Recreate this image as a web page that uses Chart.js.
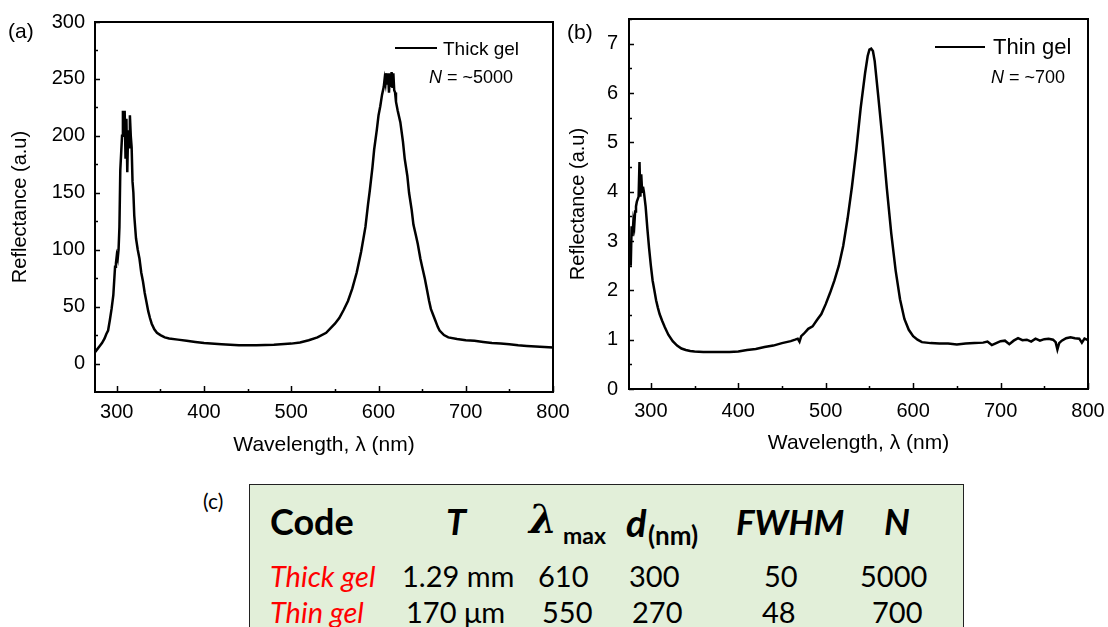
<!DOCTYPE html>
<html>
<head>
<meta charset="utf-8">
<script src="https://cdn.jsdelivr.net/npm/chart.js@4.4.0/dist/chart.umd.min.js"></script>
<style>
body { margin: 0; background: #fff; width: 1108px; height: 627px; overflow: hidden; position: relative; font-family: "Liberation Sans", Arial, sans-serif; }
canvas { position: absolute; top: 0; }
#chartA { left: 0; }
#chartB { left: 560px; }
.abs { position: absolute; white-space: nowrap; line-height: 1; }
.panel { font-size: 21px; }
.legline { position: absolute; height: 0; border-top: 2.5px solid #000; }
#table { position: absolute; left: 249px; top: 484px; width: 713px; height: 160px; background: #e2efd9; border: 1.5px solid #222; }
.cal { font-family: Lato, "Open Sans", sans-serif; }
.hd { font-weight: bold; font-size: 36px; }
.row { font-size: 29px; }
.red { color: #ff0000; font-style: italic; }
</style>
</head>
<body>
<canvas id="chartA" width="580" height="470"></canvas>
<canvas id="chartB" width="548" height="470"></canvas>

<div class="abs panel" style="left:8px;top:20px;">(a)</div>
<div class="abs panel" style="left:567px;top:21px;">(b)</div>
<div class="abs panel cal" style="left:203px;top:490px;font-size:21px;">(c)</div>

<div class="legline" style="left:395px;top:47px;width:42px;"></div>
<div class="abs" style="left:443px;top:39px;font-size:19px;">Thick gel</div>
<div class="abs" style="left:429px;top:68px;font-size:18px;"><i>N</i> = ~5000</div>

<div class="legline" style="left:935px;top:46px;width:50px;"></div>
<div class="abs" style="left:993px;top:36px;font-size:22px;">Thin gel</div>
<div class="abs" style="left:991px;top:68px;font-size:18px;"><i>N</i> = ~700</div>

<div id="table"></div>
<div class="abs cal hd" style="left:270px;top:503px;">Code</div>
<div class="abs cal hd" style="left:446px;top:503px;font-style:italic;">T</div>
<div class="abs" style="left:529px;top:499px;font-family:'DejaVu Serif',serif;font-style:italic;font-weight:bold;font-size:40px;">λ</div>
<div class="abs cal" style="left:563px;top:524px;font-weight:bold;font-size:23px;">max</div>
<div class="abs cal hd" style="left:626px;top:503px;font-style:italic;font-size:38px;">d</div>
<div class="abs cal" style="left:648px;top:522px;font-weight:bold;font-size:26px;">(nm)</div>
<div class="abs cal hd" style="left:736px;top:504px;font-style:italic;font-size:35px;">FWHM</div>
<div class="abs cal hd" style="left:884px;top:503px;font-style:italic;">N</div>

<div class="abs cal row red" style="left:270px;top:561px;">Thick gel</div>
<div class="abs cal row" style="left:402px;top:561px;">1.29 mm</div>
<div class="abs cal row" style="left:538px;top:561px;">610</div>
<div class="abs cal row" style="left:629px;top:561px;">300</div>
<div class="abs cal row" style="left:764px;top:561px;">50</div>
<div class="abs cal row" style="left:860px;top:561px;">5000</div>

<div class="abs cal row red" style="left:270px;top:597px;">Thin gel</div>
<div class="abs cal row" style="left:406px;top:597px;">170 μm</div>
<div class="abs cal row" style="left:542px;top:597px;">550</div>
<div class="abs cal row" style="left:632px;top:597px;">270</div>
<div class="abs cal row" style="left:762px;top:597px;">48</div>
<div class="abs cal row" style="left:872px;top:597px;">700</div>

<script>
// (a) thick gel spectrum
const thickWl = [275, 277, 280, 283, 286, 288, 290, 292, 294, 296, 298, 299, 300, 301, 302, 303, 304, 305, 306, 307,
  308, 309, 310, 311, 312, 313, 314, 315, 316, 317, 318, 319, 320, 322, 324, 326, 328, 330, 332, 334,
  336, 338, 340, 343, 346, 350, 355, 360, 370, 380, 390, 400, 420, 440, 460, 480, 500, 510, 520, 530,
  540, 550, 555, 560, 565, 570, 575, 580, 585, 588, 590, 593, 595, 598, 600, 602, 604, 606, 607, 608,
  609, 610, 611, 612, 613, 614, 615, 616, 617, 618, 619, 620, 622, 625, 628, 630, 633, 635, 638, 640,
  643, 645, 648, 650, 653, 655, 658, 660, 663, 665, 668, 670, 675, 680, 690, 700, 710, 720, 730, 740,
  750, 760, 770, 780, 790, 800];
const thickR = [10, 12, 15, 18, 22, 26, 29, 38, 48, 60, 85, 88, 95, 92, 100, 120, 170, 185, 200, 222,
  205, 222, 180, 215, 168, 205, 190, 218, 200, 190, 160, 150, 130, 110, 100, 92, 80, 72, 62, 54,
  46, 40, 35, 30, 27, 25, 23, 22, 21, 20, 19, 18, 17, 16, 16, 16.5, 17.5, 18.5, 20.5, 23,
  27, 35, 40, 47, 55, 66, 80, 98, 120, 140, 152, 172, 188, 205, 218, 226, 236, 243, 250, 246,
  255, 245, 255, 238, 254, 243, 256, 242, 255, 240, 238, 230, 222, 212, 195, 180, 165, 150, 135, 122,
  112, 105, 92, 85, 75, 67, 55, 48, 42, 38, 32, 29, 25, 23, 21.5, 20.5, 20, 19, 18, 17.5,
  17, 16, 15.5, 15, 14.5, 14];

// (b) thin gel spectrum
const thinWl = [276, 277, 278, 279, 280, 281, 282, 283, 284, 285, 286, 287, 288, 289, 290, 291, 292, 294, 296, 298,
  300, 302, 304, 306, 308, 310, 313, 316, 320, 325, 330, 335, 340, 345, 350, 360, 370, 380, 390, 400,
  410, 420, 430, 440, 450, 460, 465, 468, 470, 472, 475, 480, 485, 490, 495, 500, 505, 510, 515, 520,
  525, 530, 535, 540, 545, 548, 550, 552, 554, 556, 560, 565, 570, 575, 580, 585, 590, 595, 600, 605,
  610, 620, 630, 640, 650, 660, 670, 680, 685, 690, 695, 700, 705, 710, 715, 720, 725, 730, 735, 740,
  745, 750, 755, 760, 763, 765, 767, 770, 775, 780, 785, 790, 793, 796, 800];
const thinR = [3.0, 2.5, 3.3, 3.1, 3.4, 3.3, 3.6, 3.7, 3.8, 3.85, 3.9, 4.6, 3.9, 4.35, 4.0, 4.1, 4.0, 3.7, 3.25, 2.85,
  2.5, 2.2, 2.0, 1.8, 1.65, 1.52, 1.38, 1.25, 1.1, 0.97, 0.88, 0.82, 0.79, 0.77, 0.76, 0.75, 0.75, 0.75, 0.75, 0.76,
  0.79, 0.81, 0.85, 0.88, 0.93, 0.97, 1.0, 1.02, 0.96, 1.07, 1.12, 1.22, 1.27, 1.4, 1.52, 1.72, 1.95, 2.2, 2.5, 2.9,
  3.45, 4.1, 4.85, 5.7, 6.4, 6.75, 6.88, 6.9, 6.85, 6.65, 5.95, 5.05, 4.05, 3.15, 2.4, 1.82, 1.42, 1.2, 1.07, 1.0,
  0.95, 0.93, 0.92, 0.92, 0.9, 0.92, 0.93, 0.94, 0.96, 0.89, 0.93, 0.97, 0.98, 0.91, 0.98, 1.03, 0.99, 1.0, 0.96, 1.02,
  0.98, 1.01, 1.02, 1.0, 0.95, 0.8, 0.93, 0.98, 1.03, 1.05, 1.03, 1.02, 0.94, 1.02, 0.99];

const xTicks = [300, 400, 500, 600, 700, 800];
const yTicksA = [0, 50, 100, 150, 200, 250, 300];
const yTicksB = [0, 1, 2, 3, 4, 5, 6, 7];

// frame box plus inward major/minor ticks (Origin style)
const framePlugin = {
  id: 'frame',
  afterDraw(chart, args, opts) {
    const ctx = chart.ctx, a = chart.chartArea, x = chart.scales.x, y = chart.scales.y;
    const isMajor = (v, step) => Math.abs(v / step - Math.round(v / step)) < 1e-6;
    ctx.save();
    ctx.strokeStyle = '#000';
    ctx.lineWidth = 1.5;
    ctx.beginPath();
    for (let v = 300; v <= 800 + 1e-6; v += 50) {
      const px = Math.round(x.getPixelForValue(v)) + 0.5;
      ctx.moveTo(px, a.bottom);
      ctx.lineTo(px, a.bottom - (isMajor(v, 100) ? 6 : 3));
    }
    for (let v = opts.yFrom; v <= y.max + 1e-6; v += opts.yMinor) {
      const py = Math.round(y.getPixelForValue(v)) + 0.5;
      ctx.moveTo(a.left, py);
      ctx.lineTo(a.left + (isMajor(v, opts.yMajor) ? 5 : 3), py);
    }
    ctx.stroke();
    ctx.lineWidth = 2;
    ctx.strokeRect(a.left, a.top, a.right - a.left, a.bottom - a.top);
    ctx.restore();
  }
};

function makeChart(id, wl, r, yMin, yMax, yTicks, yMinor, yMajor, axisW, axisH, pad, lp) {
  const family = '"Liberation Sans", Arial, sans-serif';
  return new Chart(document.getElementById(id), {
    type: 'scatter',
    data: {
      datasets: [{
        data: wl.map((w, i) => ({ x: w, y: r[i] })),
        showLine: true,
        borderColor: '#000',
        borderWidth: 2.5,
        pointRadius: 0,
        tension: 0
      }]
    },
    options: {
      responsive: false,
      animation: false,
      devicePixelRatio: 1,
      layout: { padding: pad },
      plugins: {
        legend: { display: false },
        tooltip: { enabled: false },
        frame: { yFrom: yTicks[0], yMinor: yMinor, yMajor: yMajor }
      },
      scales: {
        x: {
          type: 'linear', min: 275, max: 800,
          afterBuildTicks: s => { s.ticks = xTicks.map(v => ({ value: v })); },
          afterFit: s => { s.height = axisH; s.paddingLeft = 0; s.paddingRight = 0; },
          grid: { display: false, drawTicks: false },
          border: { display: false },
          ticks: { color: '#000', font: { family: family, size: 20 }, padding: lp.xTick, maxRotation: 0, autoSkip: false },
          title: { display: true, text: 'Wavelength, λ (nm)', color: '#000', font: { family: family, size: 21 }, padding: { top: 0, bottom: lp.xTitle } }
        },
        y: {
          min: yMin, max: yMax,
          afterBuildTicks: s => { s.ticks = yTicks.map(v => ({ value: v })); },
          afterFit: s => { s.width = axisW; s.paddingTop = 0; s.paddingBottom = 0; },
          grid: { display: false, drawTicks: false },
          border: { display: false },
          ticks: { color: '#000', font: { family: family, size: 20 }, padding: lp.yTick, autoSkip: false },
          title: { display: true, text: 'Reflectance (a.u)', color: '#000', font: { family: family, size: 20 }, padding: { top: lp.yTitle, bottom: 0 } }
        }
      }
    },
    plugins: [framePlugin]
  });
}

makeChart('chartA', thickWl, thickR, -25, 300, yTicksA, 25, 50, 95, 78,
  { left: 0, top: 22, right: 27, bottom: 0 }, { xTick: 8, xTitle: 12, yTick: 10, yTitle: 8 });
makeChart('chartB', thinWl, thinR, 0, 7.5, yTicksB, 0.5, 1, 69, 81,
  { left: 0, top: 19, right: 20, bottom: 0 }, { xTick: 10, xTitle: 14, yTick: 11, yTitle: 6 });
</script>
</body>
</html>
